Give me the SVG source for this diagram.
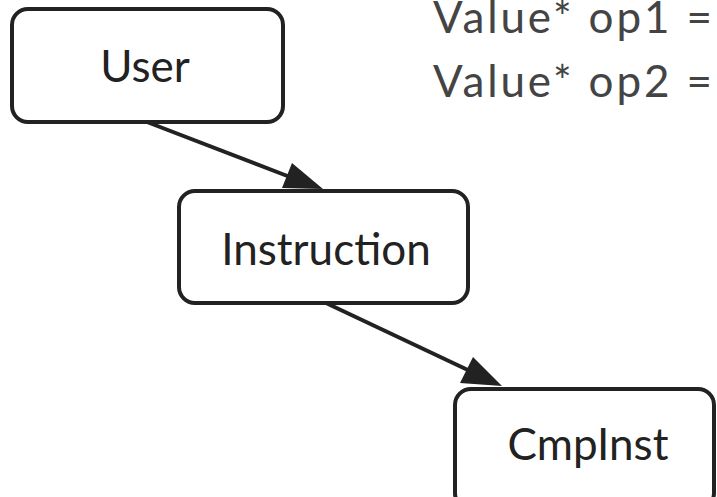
<svg xmlns="http://www.w3.org/2000/svg" width="717" height="497" viewBox="0 0 717 497">
<style>
.node rect{fill:#fff;stroke:#222;stroke-width:4}
.node text{font-family:Lato,"Open Sans",sans-serif;font-size:44px;fill:#222;text-anchor:middle}
.code{font-family:Lato,"Open Sans",sans-serif;font-size:44px;fill:#444}
.edge line{stroke:#222;stroke-width:4}
.edge polygon{fill:#222}
</style>
<text class="code" x="433" y="33" textLength="279" lengthAdjust="spacing">Value* op1 =</text>
<text class="code" x="433" y="97" textLength="279" lengthAdjust="spacing">Value* op2 =</text>
<g id="connectors" class="edge">
<line x1="147" y1="122" x2="290" y2="177"/>
<polygon points="323,189 292,163 282,188"/>
<line x1="326" y1="303" x2="470" y2="371"/>
<polygon points="502,386 473,357 460,383"/>
</g>
<g id="node-user" class="node">
<rect x="12" y="9" width="271" height="113" rx="16"/>
<text x="145" y="82">User</text>
</g>
<g id="node-instruction" class="node">
<rect x="179" y="191" width="289" height="112" rx="16"/>
<text x="326" y="265">Instruction</text>
</g>
<g id="node-cmpinst" class="node">
<rect x="455" y="389" width="259" height="120" rx="16"/>
<text x="588" y="460">CmpInst</text>
</g>
</svg>
